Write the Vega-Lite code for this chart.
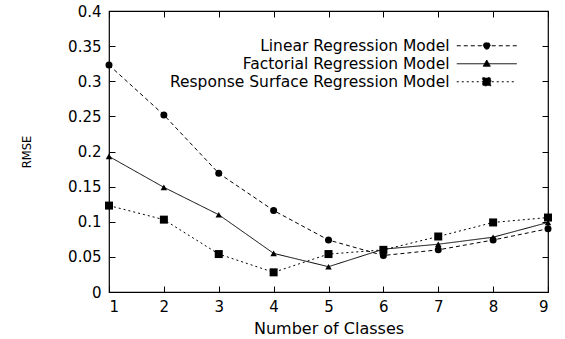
{
  "$schema": "https://vega.github.io/schema/vega-lite/v6.json",
  "width": 439,
  "height": 281,
  "autosize": "none",
  "padding": {"left": 109, "top": 11, "right": 17, "bottom": 47},
  "background": "white",
  "config": {
    "font": "DejaVu Sans",
    "view": {"stroke": "black", "strokeWidth": 1.2},
    "axis": {
      "grid": false,
      "domain": false,
      "tickColor": "black",
      "tickSize": -6,
      "labelColor": "black",
      "labelFontSize": 15,
      "titleFontSize": 16,
      "titleFontWeight": "normal",
      "titleColor": "black",
      "labelFont": "DejaVu Sans",
      "titleFont": "DejaVu Sans"
    }
  },
  "data": {
    "values": [
      {"classes": 1, "model": "Linear Regression Model", "rmse": 0.323},
      {"classes": 2, "model": "Linear Regression Model", "rmse": 0.252},
      {"classes": 3, "model": "Linear Regression Model", "rmse": 0.169},
      {"classes": 4, "model": "Linear Regression Model", "rmse": 0.116},
      {"classes": 5, "model": "Linear Regression Model", "rmse": 0.074},
      {"classes": 6, "model": "Linear Regression Model", "rmse": 0.052},
      {"classes": 7, "model": "Linear Regression Model", "rmse": 0.060},
      {"classes": 8, "model": "Linear Regression Model", "rmse": 0.074},
      {"classes": 9, "model": "Linear Regression Model", "rmse": 0.090},
      {"classes": 1, "model": "Factorial Regression Model", "rmse": 0.193},
      {"classes": 2, "model": "Factorial Regression Model", "rmse": 0.149},
      {"classes": 3, "model": "Factorial Regression Model", "rmse": 0.110},
      {"classes": 4, "model": "Factorial Regression Model", "rmse": 0.055},
      {"classes": 5, "model": "Factorial Regression Model", "rmse": 0.036},
      {"classes": 6, "model": "Factorial Regression Model", "rmse": 0.061},
      {"classes": 7, "model": "Factorial Regression Model", "rmse": 0.068},
      {"classes": 8, "model": "Factorial Regression Model", "rmse": 0.078},
      {"classes": 9, "model": "Factorial Regression Model", "rmse": 0.099},
      {"classes": 1, "model": "Response Surface Regression Model", "rmse": 0.123},
      {"classes": 2, "model": "Response Surface Regression Model", "rmse": 0.103},
      {"classes": 3, "model": "Response Surface Regression Model", "rmse": 0.054},
      {"classes": 4, "model": "Response Surface Regression Model", "rmse": 0.028},
      {"classes": 5, "model": "Response Surface Regression Model", "rmse": 0.054},
      {"classes": 6, "model": "Response Surface Regression Model", "rmse": 0.060},
      {"classes": 7, "model": "Response Surface Regression Model", "rmse": 0.079},
      {"classes": 8, "model": "Response Surface Regression Model", "rmse": 0.099},
      {"classes": 9, "model": "Response Surface Regression Model", "rmse": 0.106}
    ]
  },
  "layer": [
    {
      "mark": {"type": "line", "color": "black", "strokeWidth": 1},
      "encoding": {
        "x": {
          "field": "classes", "type": "quantitative",
          "scale": {"domain": [1, 9], "nice": false, "zero": false},
          "axis": {"orient": "bottom", "values": [1, 2, 3, 4, 5, 6, 7, 8, 9], "title": "Number of Classes", "labelPadding": 13, "titlePadding": 6}
        },
        "y": {
          "field": "rmse", "type": "quantitative",
          "scale": {"domain": [0, 0.4], "nice": false},
          "axis": {"orient": "left", "values": [0, 0.05, 0.1, 0.15, 0.2, 0.25, 0.3, 0.35, 0.4], "format": "~g", "title": "RMSE", "titleFontSize": 11.5, "labelPadding": 14, "titlePadding": 35}
        },
        "strokeDash": {
          "field": "model", "type": "nominal",
          "scale": {
            "domain": ["Linear Regression Model", "Factorial Regression Model", "Response Surface Regression Model"],
            "range": [[4, 3], [1, 0], [2, 3]]
          },
          "legend": {
            "orient": "none",
            "legendX": 370,
            "legendY": 27,
            "title": null,
            "padding": 0,
            "symbolSize": 100,
            "symbolStrokeWidth": 1,
            "symbolStrokeColor": "black",
            "symbolFillColor": "black",
            "labelFont": "DejaVu Sans",
            "labelFontSize": 15.5,
            "labelColor": "black",
            "labelAlign": "right",
            "labelOffset": -45,
            "labelLimit": 400,
            "rowPadding": 1,
            "encode": {
              "symbols": {
                "update": {
                  "shape": {"signal": "datum.value === 'Linear Regression Model' ? 'M-6,0L6,0M-0.7,0L-0.5,-0.5L0,-0.7L0.5,-0.5L0.7,0L0.5,0.5L0,0.7L-0.5,0.5Z' : datum.value === 'Factorial Regression Model' ? 'M-6,0L6,0M0,-0.75L0.7,0.5L-0.7,0.5Z' : 'M-6,0L6,0M-0.8,-0.8L0.8,-0.8L0.8,0.8L-0.8,0.8Z'"},
                  "fill": {"value": "black"},
                  "stroke": {"value": "black"},
                  "strokeWidth": {"value": 1},
                  "opacity": {"value": 1}
                }
              }
            }
          }
        }
      }
    },
    {
      "transform": [{"filter": "datum.model === 'Linear Regression Model'"}],
      "mark": {"type": "point", "filled": true, "color": "black", "opacity": 1, "shape": "circle", "size": 49},
      "encoding": {
        "x": {
          "field": "classes", "type": "quantitative",
          "scale": {"domain": [1, 9], "nice": false, "zero": false},
          "axis": {"orient": "top", "values": [1, 2, 3, 4, 5, 6, 7, 8, 9], "labels": false, "title": null}
        },
        "y": {
          "field": "rmse", "type": "quantitative",
          "scale": {"domain": [0, 0.4], "nice": false},
          "axis": {"orient": "right", "values": [0, 0.05, 0.1, 0.15, 0.2, 0.25, 0.3, 0.35, 0.4], "labels": false, "title": null}
        }
      }
    },
    {
      "transform": [{"filter": "datum.model === 'Factorial Regression Model'"}],
      "mark": {"type": "point", "filled": true, "color": "black", "opacity": 1, "shape": "triangle-up", "size": 42},
      "encoding": {
        "x": {"field": "classes", "type": "quantitative", "scale": {"domain": [1, 9], "nice": false, "zero": false}, "axis": null},
        "y": {"field": "rmse", "type": "quantitative", "scale": {"domain": [0, 0.4], "nice": false}, "axis": null}
      }
    },
    {
      "transform": [{"filter": "datum.model === 'Response Surface Regression Model'"}],
      "mark": {"type": "point", "filled": true, "color": "black", "opacity": 1, "shape": "square", "size": 64},
      "encoding": {
        "x": {"field": "classes", "type": "quantitative", "scale": {"domain": [1, 9], "nice": false, "zero": false}, "axis": null},
        "y": {"field": "rmse", "type": "quantitative", "scale": {"domain": [0, 0.4], "nice": false}, "axis": null}
      }
    }
  ],
  "resolve": {"axis": {"x": "independent", "y": "independent"}}
}
